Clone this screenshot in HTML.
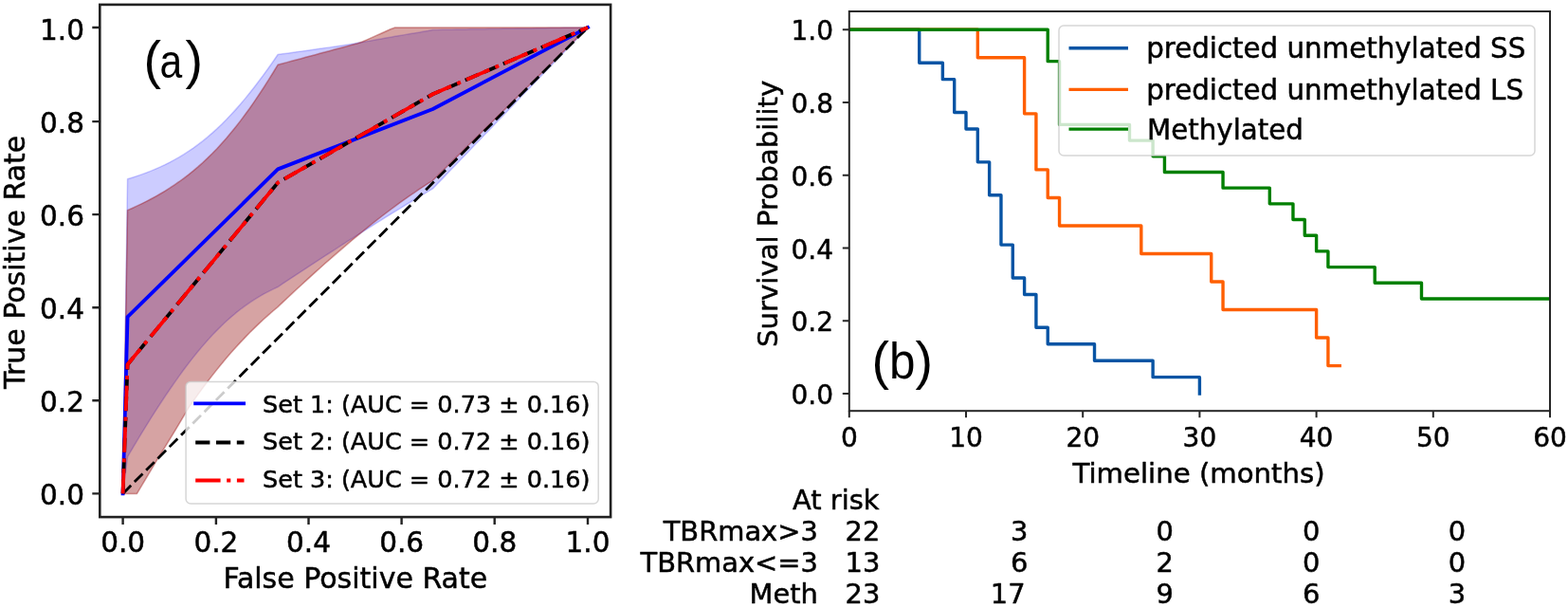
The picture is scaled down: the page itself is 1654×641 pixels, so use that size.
<!DOCTYPE html>
<html><head><meta charset="utf-8"><title>Figure</title>
<style>html,body{margin:0;padding:0;background:#fff;overflow:hidden}svg{display:block}text{stroke:#000;stroke-width:0.5px;stroke-linejoin:round}</style>
</head><body>
<svg width="1654" height="641" viewBox="0 0 1654 641">
<rect x="0" y="0" width="1654" height="641" fill="#ffffff"/>
<defs><clipPath id="ca"><rect x="105.3" y="4.9" width="538.8" height="540.2"/></clipPath><clipPath id="cb"><rect x="896" y="12" width="739" height="421.3"/></clipPath></defs>
<g clip-path="url(#ca)">
<polygon points="129.60,520.40 134.55,188.70 139.51,187.20 144.46,185.61 149.41,183.90 154.37,182.09 159.32,180.17 164.27,178.11 169.23,175.92 174.18,173.59 179.14,171.10 184.09,168.46 189.04,165.64 194.00,162.64 198.95,159.45 203.90,156.06 208.86,152.46 213.81,148.66 218.76,144.63 223.72,140.37 228.67,135.89 233.62,131.17 238.58,126.22 243.53,121.04 248.48,115.63 253.44,109.99 258.39,104.13 263.35,98.05 268.30,91.77 273.25,85.28 278.21,78.60 283.16,71.74 288.11,64.70 293.07,57.50 298.02,56.83 302.97,56.15 307.93,55.47 312.88,54.80 317.83,54.12 322.79,53.45 327.74,52.77 332.69,52.10 337.65,51.36 342.60,50.62 347.56,49.88 352.51,49.15 357.46,48.41 362.42,47.67 367.37,46.93 372.32,46.15 377.28,45.34 382.23,44.51 387.18,43.62 392.14,42.73 397.09,41.84 402.04,40.95 407.00,40.06 411.95,39.17 416.91,38.28 421.86,37.45 426.81,36.63 431.77,35.81 436.72,35.00 441.67,34.18 446.63,33.36 451.58,32.54 456.53,31.46 461.49,31.38 466.44,31.31 471.39,31.23 476.35,31.16 481.30,31.08 486.25,31.01 491.21,30.94 496.16,30.86 501.12,30.79 506.07,30.71 511.02,30.64 515.98,30.56 520.93,30.49 525.88,30.41 530.84,30.34 535.79,30.27 540.74,30.19 545.70,30.12 550.65,30.04 555.60,29.97 560.56,29.89 565.51,29.82 570.46,29.74 575.42,29.67 580.37,29.60 585.33,29.52 590.28,29.45 595.23,29.37 600.19,29.30 605.14,29.22 610.09,29.15 615.05,29.07 620.00,29.00 620.00,29.00 615.05,34.15 610.09,39.30 605.14,44.45 600.19,49.60 595.23,54.75 590.28,59.90 585.33,65.04 580.37,70.19 575.42,75.34 570.46,80.49 565.51,85.64 560.56,90.79 555.60,95.94 550.65,101.09 545.70,106.24 540.74,111.39 535.79,116.54 530.84,121.69 525.88,126.84 520.93,131.99 515.98,137.13 511.02,142.28 506.07,147.43 501.12,152.58 496.16,157.73 491.21,162.88 486.25,168.03 481.30,173.18 476.35,178.33 471.39,183.48 466.44,188.63 461.49,193.78 456.53,198.93 451.58,201.85 446.63,204.80 441.67,207.77 436.72,210.75 431.77,213.75 426.81,216.76 421.86,219.79 416.91,222.84 411.95,225.90 407.00,228.97 402.04,232.05 397.09,235.15 392.14,238.26 387.18,241.39 382.23,244.52 377.28,247.67 372.32,250.83 367.37,253.99 362.42,257.17 357.46,260.35 352.51,263.55 347.56,266.75 342.60,269.97 337.65,273.19 332.69,276.42 327.74,279.66 322.79,282.90 317.83,286.15 312.88,289.41 307.93,292.68 302.97,295.95 298.02,299.23 293.07,302.51 288.11,304.82 283.16,307.30 278.21,309.95 273.25,312.80 268.30,315.84 263.35,319.10 258.39,322.57 253.44,326.27 248.48,330.21 243.53,334.38 238.58,338.80 233.62,343.47 228.67,348.39 223.72,353.55 218.76,358.97 213.81,364.63 208.86,370.52 203.90,376.65 198.95,383.00 194.00,389.57 189.04,396.34 184.09,403.31 179.14,410.46 174.18,417.79 169.23,425.28 164.27,432.93 159.32,440.72 154.37,448.64 149.41,456.70 144.46,464.87 139.51,473.15 134.55,481.53 129.60,520.40" fill="#0000ff" fill-opacity="0.2" stroke="#0000ff" stroke-opacity="0.2" stroke-width="1.5" stroke-linejoin="round"/>
<polygon points="129.60,520.40 134.55,221.63 139.51,219.45 144.46,217.18 149.41,214.82 154.37,212.35 159.32,209.77 164.27,207.07 169.23,204.25 174.18,201.29 179.14,198.18 184.09,194.92 189.04,191.49 194.00,187.88 198.95,184.09 203.90,180.11 208.86,175.91 213.81,171.51 218.76,166.87 223.72,162.01 228.67,156.90 233.62,151.55 238.58,145.95 243.53,140.10 248.48,134.00 253.44,127.64 258.39,121.04 263.35,114.19 268.30,107.09 273.25,99.77 278.21,92.22 283.16,84.46 288.11,76.48 293.07,68.31 298.02,66.98 302.97,65.65 307.93,64.32 312.88,62.99 317.83,61.66 322.79,60.33 327.74,59.00 332.69,57.66 337.65,56.33 342.60,55.00 347.56,53.67 352.51,52.34 357.46,51.01 362.42,49.68 367.37,48.35 372.32,47.02 377.28,45.69 382.23,44.05 387.18,41.84 392.14,39.63 397.09,37.42 402.04,35.22 407.00,33.01 411.95,30.80 416.91,29.00 421.86,29.00 426.81,29.00 431.77,29.00 436.72,29.00 441.67,29.00 446.63,29.00 451.58,29.00 456.53,29.00 461.49,29.00 466.44,29.00 471.39,29.00 476.35,29.00 481.30,29.00 486.25,29.00 491.21,29.00 496.16,29.00 501.12,29.00 506.07,29.00 511.02,29.00 515.98,29.00 520.93,29.00 525.88,29.00 530.84,29.00 535.79,29.00 540.74,29.00 545.70,29.00 550.65,29.00 555.60,29.00 560.56,29.00 565.51,29.00 570.46,29.00 575.42,29.00 580.37,29.00 585.33,29.00 590.28,29.00 595.23,29.00 600.19,29.00 605.14,29.00 610.09,29.00 615.05,29.00 620.00,29.00 620.00,29.00 615.05,33.89 610.09,38.78 605.14,43.67 600.19,48.55 595.23,53.44 590.28,58.33 585.33,63.22 580.37,68.11 575.42,73.00 570.46,77.89 565.51,82.78 560.56,87.66 555.60,92.55 550.65,97.44 545.70,102.33 540.74,107.22 535.79,112.11 530.84,117.00 525.88,121.89 520.93,126.77 515.98,131.66 511.02,136.55 506.07,141.44 501.12,146.33 496.16,151.22 491.21,156.11 486.25,160.99 481.30,165.88 476.35,170.77 471.39,175.66 466.44,180.55 461.49,185.44 456.53,190.33 451.58,193.46 446.63,196.66 441.67,199.93 436.72,203.28 431.77,206.69 426.81,210.17 421.86,213.71 416.91,217.32 411.95,220.99 407.00,224.73 402.04,228.52 397.09,232.37 392.14,236.28 387.18,240.24 382.23,244.26 377.28,248.32 372.32,252.44 367.37,256.60 362.42,260.81 357.46,265.06 352.51,269.35 347.56,273.69 342.60,278.06 337.65,282.47 332.69,286.91 327.74,291.39 322.79,295.90 317.83,300.45 312.88,305.02 307.93,309.62 302.97,314.25 298.02,318.91 293.07,323.59 288.11,327.77 283.16,332.09 278.21,336.55 273.25,341.15 268.30,345.91 263.35,350.82 258.39,355.89 253.44,361.13 248.48,366.53 243.53,372.11 238.58,377.85 233.62,383.77 228.67,389.85 223.72,396.11 218.76,402.55 213.81,409.15 208.86,415.91 203.90,422.84 198.95,429.94 194.00,438.28 189.04,446.63 184.09,454.93 179.14,462.99 174.18,471.05 169.23,479.11 164.27,487.23 159.32,495.52 154.37,503.81 149.41,512.11 144.46,520.40 139.51,520.40 134.55,520.40 129.60,520.40" fill="#000000" fill-opacity="0.2" stroke="#000000" stroke-opacity="0.2" stroke-width="1.5" stroke-linejoin="round"/>
<polygon points="129.60,520.40 134.55,221.63 139.51,219.45 144.46,217.18 149.41,214.82 154.37,212.35 159.32,209.77 164.27,207.07 169.23,204.25 174.18,201.29 179.14,198.18 184.09,194.92 189.04,191.49 194.00,187.88 198.95,184.09 203.90,180.11 208.86,175.91 213.81,171.51 218.76,166.87 223.72,162.01 228.67,156.90 233.62,151.55 238.58,145.95 243.53,140.10 248.48,134.00 253.44,127.64 258.39,121.04 263.35,114.19 268.30,107.09 273.25,99.77 278.21,92.22 283.16,84.46 288.11,76.48 293.07,68.31 298.02,66.98 302.97,65.65 307.93,64.32 312.88,62.99 317.83,61.66 322.79,60.33 327.74,59.00 332.69,57.66 337.65,56.33 342.60,55.00 347.56,53.67 352.51,52.34 357.46,51.01 362.42,49.68 367.37,48.35 372.32,47.02 377.28,45.69 382.23,44.05 387.18,41.84 392.14,39.63 397.09,37.42 402.04,35.22 407.00,33.01 411.95,30.80 416.91,29.00 421.86,29.00 426.81,29.00 431.77,29.00 436.72,29.00 441.67,29.00 446.63,29.00 451.58,29.00 456.53,29.00 461.49,29.00 466.44,29.00 471.39,29.00 476.35,29.00 481.30,29.00 486.25,29.00 491.21,29.00 496.16,29.00 501.12,29.00 506.07,29.00 511.02,29.00 515.98,29.00 520.93,29.00 525.88,29.00 530.84,29.00 535.79,29.00 540.74,29.00 545.70,29.00 550.65,29.00 555.60,29.00 560.56,29.00 565.51,29.00 570.46,29.00 575.42,29.00 580.37,29.00 585.33,29.00 590.28,29.00 595.23,29.00 600.19,29.00 605.14,29.00 610.09,29.00 615.05,29.00 620.00,29.00 620.00,29.00 615.05,33.89 610.09,38.78 605.14,43.67 600.19,48.55 595.23,53.44 590.28,58.33 585.33,63.22 580.37,68.11 575.42,73.00 570.46,77.89 565.51,82.78 560.56,87.66 555.60,92.55 550.65,97.44 545.70,102.33 540.74,107.22 535.79,112.11 530.84,117.00 525.88,121.89 520.93,126.77 515.98,131.66 511.02,136.55 506.07,141.44 501.12,146.33 496.16,151.22 491.21,156.11 486.25,160.99 481.30,165.88 476.35,170.77 471.39,175.66 466.44,180.55 461.49,185.44 456.53,190.33 451.58,193.46 446.63,196.66 441.67,199.93 436.72,203.28 431.77,206.69 426.81,210.17 421.86,213.71 416.91,217.32 411.95,220.99 407.00,224.73 402.04,228.52 397.09,232.37 392.14,236.28 387.18,240.24 382.23,244.26 377.28,248.32 372.32,252.44 367.37,256.60 362.42,260.81 357.46,265.06 352.51,269.35 347.56,273.69 342.60,278.06 337.65,282.47 332.69,286.91 327.74,291.39 322.79,295.90 317.83,300.45 312.88,305.02 307.93,309.62 302.97,314.25 298.02,318.91 293.07,323.59 288.11,327.77 283.16,332.09 278.21,336.55 273.25,341.15 268.30,345.91 263.35,350.82 258.39,355.89 253.44,361.13 248.48,366.53 243.53,372.11 238.58,377.85 233.62,383.77 228.67,389.85 223.72,396.11 218.76,402.55 213.81,409.15 208.86,415.91 203.90,422.84 198.95,429.94 194.00,438.28 189.04,446.63 184.09,454.93 179.14,462.99 174.18,471.05 169.23,479.11 164.27,487.23 159.32,495.52 154.37,503.81 149.41,512.11 144.46,520.40 139.51,520.40 134.55,520.40 129.60,520.40" fill="#ff0000" fill-opacity="0.2" stroke="#ff0000" stroke-opacity="0.2" stroke-width="1.5" stroke-linejoin="round"/>
<polyline points="129.60,520.40 620.00,29.00" fill="none" stroke="#000" stroke-width="2.80" stroke-dasharray="12.2 5.2"/>
<polyline points="129.60,520.40 134.55,334.16 293.07,178.39 456.53,115.00 620.00,29.00" fill="none" stroke="#0000ff" stroke-width="3.80" stroke-linejoin="round" stroke-linecap="square"/>
<polyline points="129.60,520.40 134.55,384.28 293.07,192.64 456.53,99.27 620.00,29.00" fill="none" stroke="#000" stroke-width="3.80" stroke-dasharray="15.2 6.6" stroke-linejoin="round"/>
<polyline points="129.60,520.40 134.55,384.28 293.07,192.64 456.53,99.27 620.00,29.00" fill="none" stroke="#ff0000" stroke-width="3.80" stroke-dasharray="26.4 6.6 4.1 6.6" stroke-linejoin="round"/>
</g>
<rect x="105.30" y="4.90" width="538.80" height="540.20" fill="none" stroke="#222" stroke-width="2.6"/>
<path d="M105.30 520.40H97.30M129.60 545.10V552.90M105.30 422.30H97.30M227.90 545.10V552.90M105.30 324.30H97.30M325.50 545.10V552.90M105.30 226.10H97.30M423.60 545.10V552.90M105.30 128.10H97.30M521.70 545.10V552.90M105.30 29.00H97.30M620.00 545.10V552.90" stroke="#222" stroke-width="2.4" fill="none"/>
<g font-family="'DejaVu Sans', 'Liberation Sans', sans-serif" font-size="29.5" fill="#000">
<text x="89.00" y="531.80" text-anchor="end">0.0</text>
<text x="129.60" y="582.40" text-anchor="middle">0.0</text>
<text x="89.00" y="434.20" text-anchor="end">0.2</text>
<text x="227.90" y="582.40" text-anchor="middle">0.2</text>
<text x="89.00" y="336.20" text-anchor="end">0.4</text>
<text x="325.50" y="582.40" text-anchor="middle">0.4</text>
<text x="89.00" y="238.00" text-anchor="end">0.6</text>
<text x="423.60" y="582.40" text-anchor="middle">0.6</text>
<text x="89.00" y="139.80" text-anchor="end">0.8</text>
<text x="521.70" y="582.40" text-anchor="middle">0.8</text>
<text x="89.00" y="41.60" text-anchor="end">1.0</text>
<text x="620.00" y="582.40" text-anchor="middle">1.0</text>
</g>
<text x="374.8" y="620.1" text-anchor="middle" font-family="'DejaVu Sans', 'Liberation Sans', sans-serif" font-size="30">False Positive Rate</text>
<text transform="translate(26.2 276.4) rotate(-90)" text-anchor="middle" font-family="'DejaVu Sans', 'Liberation Sans', sans-serif" font-size="30">True Positive Rate</text>
<rect x="196.1" y="402.4" width="435.1" height="128.5" rx="5" ry="5" fill="#ffffff" fill-opacity="0.8" stroke="#cccccc" stroke-opacity="0.8" stroke-width="1.5"/>
<line x1="204.2" y1="425.4" x2="259" y2="425.4" stroke="#0000ff" stroke-width="3.80"/>
<line x1="206.2" y1="466.5" x2="257.5" y2="466.5" stroke="#000" stroke-width="3.80" stroke-dasharray="15.2 6.6"/>
<line x1="206.2" y1="506.5" x2="257.5" y2="506.5" stroke="#ff0000" stroke-width="3.80" stroke-dasharray="26.4 6.6 4.1 6.6"/>
<g font-family="'DejaVu Sans', 'Liberation Sans', sans-serif" font-size="25.5" fill="#000">
<text x="277.0" y="435.0">Set 1: (AUC = 0.73 ± 0.16)</text>
<text x="277.0" y="474.3">Set 2: (AUC = 0.72 ± 0.16)</text>
<text x="277.0" y="513.6">Set 3: (AUC = 0.72 ± 0.16)</text>
</g>
<text x="151.6" y="81.5" font-family="'Liberation Sans', sans-serif" font-size="55.6" style="stroke:none">(<tspan font-size="50" dx="-1.6" textLength="23.7" lengthAdjust="spacingAndGlyphs">a</tspan><tspan dx="3.4">)</tspan></text>
<g clip-path="url(#cb)" fill="none" stroke-width="3.40" stroke-linejoin="round" stroke-linecap="square">
<polyline points="895.80,31.30 969.72,31.30 969.72,66.19 994.36,66.19 994.36,83.64 1006.68,83.64 1006.68,118.53 1019.00,118.53 1019.00,135.97 1031.32,135.97 1031.32,170.86 1043.64,170.86 1043.64,205.75 1055.96,205.75 1055.96,258.09 1068.28,258.09 1068.28,292.98 1080.60,292.98 1080.60,310.43 1092.92,310.43 1092.92,345.32 1105.24,345.32 1105.24,362.76 1154.52,362.76 1154.52,380.21 1216.12,380.21 1216.12,397.65 1265.40,397.65 1265.40,415.10 1265.40,415.10" stroke="#0854a4"/>
<polyline points="895.80,31.30 1031.32,31.30 1031.32,60.82 1080.60,60.82 1080.60,119.87 1092.92,119.87 1092.92,178.92 1105.24,178.92 1105.24,208.44 1117.56,208.44 1117.56,237.96 1203.80,237.96 1203.80,267.48 1277.72,267.48 1277.72,297.01 1290.04,297.01 1290.04,326.53 1388.60,326.53 1388.60,356.05 1400.92,356.05 1400.92,385.58 1413.24,385.58" stroke="#ff5f00"/>
<polyline points="895.80,31.30 1105.24,31.30 1105.24,64.67 1117.56,64.67 1117.56,131.42 1191.48,131.42 1191.48,148.11 1216.12,148.11 1216.12,164.80 1228.44,164.80 1228.44,181.48 1290.04,181.48 1290.04,198.17 1339.32,198.17 1339.32,214.86 1363.96,214.86 1363.96,231.54 1376.28,231.54 1376.28,248.23 1388.60,248.23 1388.60,264.92 1400.92,264.92 1400.92,281.60 1450.20,281.60 1450.20,298.29 1499.48,298.29 1499.48,314.98 1659.64,314.98" stroke="#008000"/>
</g>
<rect x="895.80" y="12.00" width="739.20" height="421.20" fill="none" stroke="#262626" stroke-width="2.0"/>
<path d="M895.80 415.10H888.80M895.80 338.34H888.80M895.80 261.58H888.80M895.80 184.82H888.80M895.80 108.06H888.80M895.80 31.30H888.80M895.80 433.20V440.20M1019.00 433.20V440.20M1142.20 433.20V440.20M1265.40 433.20V440.20M1388.60 433.20V440.20M1511.80 433.20V440.20M1635.00 433.20V440.20" stroke="#262626" stroke-width="2.0" fill="none"/>
<g font-family="'DejaVu Sans', 'Liberation Sans', sans-serif" font-size="28.0" fill="#000">
<text x="879.00" y="426.20" text-anchor="end">0.0</text>
<text x="879.00" y="349.44" text-anchor="end">0.2</text>
<text x="879.00" y="272.68" text-anchor="end">0.4</text>
<text x="879.00" y="195.92" text-anchor="end">0.6</text>
<text x="879.00" y="119.16" text-anchor="end">0.8</text>
<text x="879.00" y="42.40" text-anchor="end">1.0</text>
<text x="895.80" y="471.30" text-anchor="middle">0</text>
<text x="1019.00" y="471.30" text-anchor="middle">10</text>
<text x="1142.20" y="471.30" text-anchor="middle">20</text>
<text x="1265.40" y="471.30" text-anchor="middle">30</text>
<text x="1388.60" y="471.30" text-anchor="middle">40</text>
<text x="1511.80" y="471.30" text-anchor="middle">50</text>
<text x="1635.00" y="471.30" text-anchor="middle">60</text>
</g>
<text x="1264.6" y="508.7" text-anchor="middle" font-family="'DejaVu Sans', 'Liberation Sans', sans-serif" font-size="29.2">Timeline (months)</text>
<text transform="translate(819.5 225.4) rotate(-90)" text-anchor="middle" font-family="'DejaVu Sans', 'Liberation Sans', sans-serif" font-size="29.2">Survival Probability</text>
<rect x="1117" y="27" width="502" height="137" rx="5" ry="5" fill="#ffffff" fill-opacity="0.8" stroke="#cccccc" stroke-opacity="0.8" stroke-width="1.5"/>
<line x1="1127.5" y1="50.7" x2="1190" y2="50.7" stroke="#0854a4" stroke-width="3.40"/>
<line x1="1127.5" y1="94.4" x2="1190" y2="94.4" stroke="#ff5f00" stroke-width="3.40"/>
<line x1="1127.5" y1="136.1" x2="1190" y2="136.1" stroke="#008000" stroke-width="3.40"/>
<g font-family="'DejaVu Sans', 'Liberation Sans', sans-serif" font-size="29.3" fill="#000">
<text x="1209.2" y="61.3">predicted unmethylated SS</text>
<text x="1209.2" y="104.5">predicted unmethylated LS</text>
<text x="1210.0" y="147.3">Methylated</text>
</g>
<text x="919.5" y="398.6" font-family="'Liberation Sans', sans-serif" font-size="55.6" style="stroke:none">(<tspan font-size="53" textLength="27.5" lengthAdjust="spacingAndGlyphs">b</tspan>)</text>
<g font-family="'DejaVu Sans', 'Liberation Sans', sans-serif" font-size="28.9" fill="#000">
<text x="927.5" y="536.8" text-anchor="end">At risk</text>
<text x="862.8" y="569.9" text-anchor="end">TBRmax&gt;3</text>
<text x="928.3" y="569.9" text-anchor="end">22</text>
<text x="1084.5" y="569.9" text-anchor="end">3</text>
<text x="1228.7" y="569.9" text-anchor="middle">0</text>
<text x="1383.3" y="569.9" text-anchor="middle">0</text>
<text x="1537.0" y="569.9" text-anchor="middle">0</text>
<text x="862.8" y="603.0" text-anchor="end">TBRmax&lt;=3</text>
<text x="928.3" y="603.0" text-anchor="end">13</text>
<text x="1084.5" y="603.0" text-anchor="end">6</text>
<text x="1228.7" y="603.0" text-anchor="middle">2</text>
<text x="1383.3" y="603.0" text-anchor="middle">0</text>
<text x="1537.0" y="603.0" text-anchor="middle">0</text>
<text x="862.8" y="636.2" text-anchor="end">Meth</text>
<text x="928.3" y="636.2" text-anchor="end">23</text>
<text x="1081.6" y="636.2" text-anchor="end">17</text>
<text x="1228.7" y="636.2" text-anchor="middle">9</text>
<text x="1383.3" y="636.2" text-anchor="middle">6</text>
<text x="1537.0" y="636.2" text-anchor="middle">3</text>
</g>
</svg>
</body></html>
